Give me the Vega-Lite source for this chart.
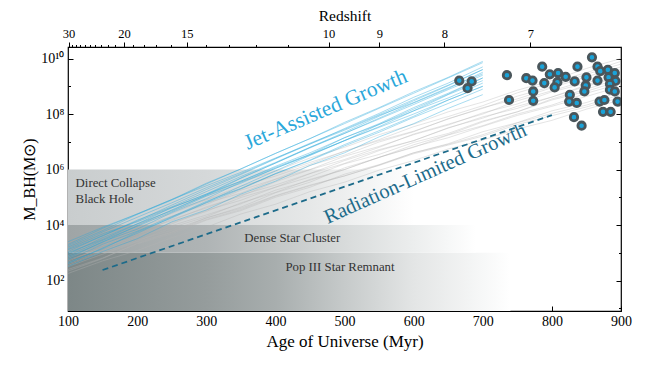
{
"$schema":"https://vega.github.io/schema/vega-lite/v6.json",
"width":553,"height":264,
"autosize":{"type":"none"},
"padding":{"left":68,"top":47,"right":29,"bottom":62},
"background":"white",
"config":{"view":{"stroke":"#000","strokeWidth":1.2},"font":"Liberation Serif",
"text":{"font":"Liberation Serif"},
"axis":{"grid":false,"domain":false,"zindex":1,"tickColor":"#000","tickWidth":1,"labelColor":"#000","titleColor":"#000","labelFont":"Liberation Serif","titleFont":"Liberation Serif","titleFontWeight":"normal","labelFlush":false,"labelOverlap":false}},
"datasets":{
"popiii":[{"x":100,"x2":740,"y":8,"y2":1000}],
"dense":[{"x":100,"x2":690,"y":1000,"y2":10000}],
"dcbh":[{"x":100,"x2":600,"y":10000,"y2":1000000}],
"blue":[
{"g":"b1","x":100,"y":3.2e2},{"g":"b1","x":150,"y":1.1e3},{"g":"b1","x":200,"y":3.2e3},{"g":"b1","x":250,"y":1.3e4},{"g":"b1","x":300,"y":3.5e4},{"g":"b1","x":350,"y":1.3e5},{"g":"b1","x":400,"y":3.8e5},{"g":"b1","x":450,"y":1.4e6},{"g":"b1","x":500,"y":4e6},{"g":"b1","x":550,"y":1.5e7},{"g":"b1","x":600,"y":4.5e7},{"g":"b1","x":650,"y":1.6e8},{"g":"b1","x":700,"y":5e8},
{"g":"b2","x":100,"y":4.5e2},{"g":"b2","x":150,"y":1.4e3},{"g":"b2","x":200,"y":5.6e3},{"g":"b2","x":250,"y":1.8e4},{"g":"b2","x":300,"y":6.3e4},{"g":"b2","x":350,"y":2e5},{"g":"b2","x":400,"y":7.1e5},{"g":"b2","x":450,"y":2.2e6},{"g":"b2","x":500,"y":7.9e6},{"g":"b2","x":550,"y":2.5e7},{"g":"b2","x":600,"y":8.3e7},{"g":"b2","x":650,"y":3.2e8},{"g":"b2","x":700,"y":1e9},
{"g":"b3","x":100,"y":5.6e2},{"g":"b3","x":150,"y":2e3},{"g":"b3","x":200,"y":6e3},{"g":"b3","x":250,"y":2e4},{"g":"b3","x":300,"y":7.1e4},{"g":"b3","x":350,"y":2.1e5},{"g":"b3","x":400,"y":7.1e5},{"g":"b3","x":450,"y":2.1e6},{"g":"b3","x":500,"y":7.1e6},{"g":"b3","x":550,"y":2.2e7},{"g":"b3","x":600,"y":7.6e7},{"g":"b3","x":650,"y":2.4e8},{"g":"b3","x":700,"y":7.9e8},
{"g":"b4","x":100,"y":6.3e2},{"g":"b4","x":150,"y":2.5e3},{"g":"b4","x":200,"y":7.1e3},{"g":"b4","x":250,"y":2.8e4},{"g":"b4","x":300,"y":8.9e4},{"g":"b4","x":350,"y":3.5e5},{"g":"b4","x":400,"y":1.1e6},{"g":"b4","x":450,"y":3.5e6},{"g":"b4","x":500,"y":1.4e7},{"g":"b4","x":550,"y":4.5e7},{"g":"b4","x":600,"y":1.7e8},{"g":"b4","x":650,"y":5.6e8},{"g":"b4","x":700,"y":2e9},
{"g":"b5","x":100,"y":7.9e2},{"g":"b5","x":150,"y":2.8e3},{"g":"b5","x":200,"y":8.9e3},{"g":"b5","x":250,"y":3e4},{"g":"b5","x":300,"y":1.1e5},{"g":"b5","x":350,"y":3.2e5},{"g":"b5","x":400,"y":1.1e6},{"g":"b5","x":450,"y":3.3e6},{"g":"b5","x":500,"y":1.1e7},{"g":"b5","x":550,"y":3.5e7},{"g":"b5","x":600,"y":1.3e8},{"g":"b5","x":650,"y":3.8e8},{"g":"b5","x":700,"y":1.3e9},
{"g":"b6","x":100,"y":8.9e2},{"g":"b6","x":150,"y":3.5e3},{"g":"b6","x":200,"y":1.1e4},{"g":"b6","x":250,"y":4.2e4},{"g":"b6","x":300,"y":1.3e5},{"g":"b6","x":350,"y":5e5},{"g":"b6","x":400,"y":1.7e6},{"g":"b6","x":450,"y":6e6},{"g":"b6","x":500,"y":2e7},{"g":"b6","x":550,"y":7.1e7},{"g":"b6","x":600,"y":2.5e8},{"g":"b6","x":650,"y":8.3e8},{"g":"b6","x":700,"y":3.2e9},
{"g":"b7","x":100,"y":1e3},{"g":"b7","x":150,"y":3e3},{"g":"b7","x":200,"y":1.1e4},{"g":"b7","x":250,"y":3.3e4},{"g":"b7","x":300,"y":1.2e5},{"g":"b7","x":350,"y":3.8e5},{"g":"b7","x":400,"y":1.3e6},{"g":"b7","x":450,"y":4e6},{"g":"b7","x":500,"y":1.4e7},{"g":"b7","x":550,"y":4.2e7},{"g":"b7","x":600,"y":1.3e8},{"g":"b7","x":650,"y":5e8},{"g":"b7","x":700,"y":1.6e9},
{"g":"b8","x":100,"y":1.1e3},{"g":"b8","x":150,"y":4.2e3},{"g":"b8","x":200,"y":1.4e4},{"g":"b8","x":250,"y":5.2e4},{"g":"b8","x":300,"y":1.9e5},{"g":"b8","x":350,"y":6.6e5},{"g":"b8","x":400,"y":2.4e6},{"g":"b8","x":450,"y":8.3e6},{"g":"b8","x":500,"y":3e7},{"g":"b8","x":550,"y":1.05e8},{"g":"b8","x":600,"y":4e8},{"g":"b8","x":650,"y":1.3e9},{"g":"b8","x":700,"y":5e9},
{"g":"b9","x":100,"y":1.3e3},{"g":"b9","x":150,"y":4e3},{"g":"b9","x":200,"y":1.5e4},{"g":"b9","x":250,"y":4.5e4},{"g":"b9","x":300,"y":1.6e5},{"g":"b9","x":350,"y":5.6e5},{"g":"b9","x":400,"y":1.8e6},{"g":"b9","x":450,"y":6.3e6},{"g":"b9","x":500,"y":2e7},{"g":"b9","x":550,"y":6.6e7},{"g":"b9","x":600,"y":2.2e8},{"g":"b9","x":650,"y":7.6e8},{"g":"b9","x":700,"y":2.5e9},
{"g":"b10","x":100,"y":1.4e3},{"g":"b10","x":150,"y":4.8e3},{"g":"b10","x":200,"y":1.3e4},{"g":"b10","x":250,"y":4.2e4},{"g":"b10","x":300,"y":1.3e5},{"g":"b10","x":350,"y":3.8e5},{"g":"b10","x":400,"y":1.2e6},{"g":"b10","x":450,"y":3.5e6},{"g":"b10","x":500,"y":1.1e7},{"g":"b10","x":550,"y":3.3e7},{"g":"b10","x":600,"y":1e8},{"g":"b10","x":650,"y":3.2e8},{"g":"b10","x":700,"y":1e9},
{"g":"b11","x":100,"y":1.6e3},{"g":"b11","x":150,"y":5.6e3},{"g":"b11","x":200,"y":1.9e4},{"g":"b11","x":250,"y":6.3e4},{"g":"b11","x":300,"y":2.2e5},{"g":"b11","x":350,"y":7.1e5},{"g":"b11","x":400,"y":2.5e6},{"g":"b11","x":450,"y":8.9e6},{"g":"b11","x":500,"y":2.8e7},{"g":"b11","x":550,"y":9.5e7},{"g":"b11","x":600,"y":3.3e8},{"g":"b11","x":650,"y":1.1e9},{"g":"b11","x":700,"y":4e9},
{"g":"b12","x":100,"y":2e3},{"g":"b12","x":150,"y":7.6e3},{"g":"b12","x":200,"y":2.5e4},{"g":"b12","x":250,"y":8.3e4},{"g":"b12","x":300,"y":3.2e5},{"g":"b12","x":350,"y":1.05e6},{"g":"b12","x":400,"y":3.8e6},{"g":"b12","x":450,"y":1.3e7},{"g":"b12","x":500,"y":4.5e7},{"g":"b12","x":550,"y":1.6e8},{"g":"b12","x":600,"y":5.6e8},{"g":"b12","x":650,"y":2e9},{"g":"b12","x":700,"y":7.1e9},
{"g":"b13","x":100,"y":7.1e2},{"g":"b13","x":150,"y":2.4e3},{"g":"b13","x":200,"y":9.5e3},{"g":"b13","x":250,"y":3.5e4},{"g":"b13","x":300,"y":1.2e5},{"g":"b13","x":350,"y":4.8e5},{"g":"b13","x":400,"y":1.7e6},{"g":"b13","x":450,"y":6.3e6},{"g":"b13","x":500,"y":2.2e7},{"g":"b13","x":550,"y":8.3e7},{"g":"b13","x":600,"y":3e8},{"g":"b13","x":650,"y":1.05e9},{"g":"b13","x":700,"y":4e9},
{"g":"b14","x":100,"y":2.5e3},{"g":"b14","x":150,"y":8.3e3},{"g":"b14","x":200,"y":2.5e4},{"g":"b14","x":250,"y":8.3e4},{"g":"b14","x":300,"y":2.6e5},{"g":"b14","x":350,"y":7.9e5},{"g":"b14","x":400,"y":2.6e6},{"g":"b14","x":450,"y":8.3e6},{"g":"b14","x":500,"y":2.6e7},{"g":"b14","x":550,"y":8.9e7},{"g":"b14","x":600,"y":2.6e8},{"g":"b14","x":650,"y":8.9e8},{"g":"b14","x":700,"y":2.8e9},
{"g":"b15","x":100,"y":4e2},{"g":"b15","x":150,"y":1.5e3},{"g":"b15","x":200,"y":5e3},{"g":"b15","x":250,"y":1.9e4},{"g":"b15","x":300,"y":6.6e4},{"g":"b15","x":350,"y":2.5e5},{"g":"b15","x":400,"y":8.9e5},{"g":"b15","x":450,"y":3.2e6},{"g":"b15","x":500,"y":1.1e7},{"g":"b15","x":550,"y":4.2e7},{"g":"b15","x":600,"y":1.5e8},{"g":"b15","x":650,"y":5.2e8},{"g":"b15","x":700,"y":2e9},
{"g":"b16","x":100,"y":1.8e3},{"g":"b16","x":150,"y":6.3e3},{"g":"b16","x":200,"y":2.4e4},{"g":"b16","x":250,"y":7.9e4},{"g":"b16","x":300,"y":3e5},{"g":"b16","x":350,"y":1.05e6},{"g":"b16","x":400,"y":3.8e6},{"g":"b16","x":450,"y":1.3e7},{"g":"b16","x":500,"y":5e7},{"g":"b16","x":550,"y":1.7e8},{"g":"b16","x":600,"y":6.3e8},{"g":"b16","x":650,"y":2.1e9},{"g":"b16","x":700,"y":7.9e9}
],
"gray":[
{"g":"g1","x":100,"y":1.8e2},{"g":"g1","x":150,"y":5.1e2},{"g":"g1","x":200,"y":1.2e3},{"g":"g1","x":250,"y":3.5e3},{"g":"g1","x":300,"y":8.3e3},{"g":"g1","x":350,"y":2.5e4},{"g":"g1","x":400,"y":5.6e4},{"g":"g1","x":450,"y":1.6e5},{"g":"g1","x":500,"y":3.5e5},{"g":"g1","x":550,"y":9.5e5},{"g":"g1","x":600,"y":2.1e6},{"g":"g1","x":650,"y":5.5e6},{"g":"g1","x":700,"y":1.15e7},{"g":"g1","x":750,"y":2.9e7},{"g":"g1","x":800,"y":5.9e7},{"g":"g1","x":850,"y":1.5e8},{"g":"g1","x":900,"y":3.2e8},
{"g":"g2","x":100,"y":2.5e2},{"g":"g2","x":150,"y":6.5e2},{"g":"g2","x":200,"y":2.1e3},{"g":"g2","x":250,"y":4.9e3},{"g":"g2","x":300,"y":1.5e4},{"g":"g2","x":350,"y":3.3e4},{"g":"g2","x":400,"y":1e5},{"g":"g2","x":450,"y":2.3e5},{"g":"g2","x":500,"y":6.8e5},{"g":"g2","x":550,"y":1.5e6},{"g":"g2","x":600,"y":4e6},{"g":"g2","x":650,"y":8.5e6},{"g":"g2","x":700,"y":2.3e7},{"g":"g2","x":750,"y":4.9e7},{"g":"g2","x":800,"y":1.3e8},{"g":"g2","x":850,"y":2.6e8},{"g":"g2","x":900,"y":6.3e8},
{"g":"g3","x":100,"y":3.2e2},{"g":"g3","x":150,"y":8.9e2},{"g":"g3","x":200,"y":2.5e3},{"g":"g3","x":250,"y":5.5e3},{"g":"g3","x":300,"y":1.6e4},{"g":"g3","x":350,"y":3.6e4},{"g":"g3","x":400,"y":1.1e5},{"g":"g3","x":450,"y":2.6e5},{"g":"g3","x":500,"y":5.9e5},{"g":"g3","x":550,"y":1.45e6},{"g":"g3","x":600,"y":4e6},{"g":"g3","x":650,"y":8.1e6},{"g":"g3","x":700,"y":1.8e7},{"g":"g3","x":750,"y":4.8e7},{"g":"g3","x":800,"y":1.05e8},{"g":"g3","x":850,"y":2.1e8},{"g":"g3","x":900,"y":5e8},
{"g":"g4","x":100,"y":3.5e2},{"g":"g4","x":150,"y":1.07e3},{"g":"g4","x":200,"y":2.6e3},{"g":"g4","x":250,"y":8.1e3},{"g":"g4","x":300,"y":2e4},{"g":"g4","x":350,"y":6.3e4},{"g":"g4","x":400,"y":1.5e5},{"g":"g4","x":450,"y":4.4e5},{"g":"g4","x":500,"y":1e6},{"g":"g4","x":550,"y":2.75e6},{"g":"g4","x":600,"y":6.3e6},{"g":"g4","x":650,"y":1.75e7},{"g":"g4","x":700,"y":3.8e7},{"g":"g4","x":750,"y":1e8},{"g":"g4","x":800,"y":2.1e8},{"g":"g4","x":850,"y":5.6e8},{"g":"g4","x":900,"y":1.26e9},
{"g":"g5","x":100,"y":4.5e2},{"g":"g5","x":150,"y":1.2e3},{"g":"g5","x":200,"y":3.5e3},{"g":"g5","x":250,"y":9.5e3},{"g":"g5","x":300,"y":2.3e4},{"g":"g5","x":350,"y":5.8e4},{"g":"g5","x":400,"y":1.8e5},{"g":"g5","x":450,"y":4.1e5},{"g":"g5","x":500,"y":1e6},{"g":"g5","x":550,"y":2.75e6},{"g":"g5","x":600,"y":6.6e6},{"g":"g5","x":650,"y":1.4e7},{"g":"g5","x":700,"y":3.6e7},{"g":"g5","x":750,"y":8.9e7},{"g":"g5","x":800,"y":1.9e8},{"g":"g5","x":850,"y":4.3e8},{"g":"g5","x":900,"y":1e9},
{"g":"g6","x":100,"y":5e2},{"g":"g6","x":150,"y":1.55e3},{"g":"g6","x":200,"y":3.8e3},{"g":"g6","x":250,"y":1.23e4},{"g":"g6","x":300,"y":3.1e4},{"g":"g6","x":350,"y":9.8e4},{"g":"g6","x":400,"y":2.3e5},{"g":"g6","x":450,"y":7.1e5},{"g":"g6","x":500,"y":1.66e6},{"g":"g6","x":550,"y":4.8e6},{"g":"g6","x":600,"y":1.1e7},{"g":"g6","x":650,"y":3.2e7},{"g":"g6","x":700,"y":7.1e7},{"g":"g6","x":750,"y":1.9e8},{"g":"g6","x":800,"y":4.1e8},{"g":"g6","x":850,"y":1.1e9},{"g":"g6","x":900,"y":2.5e9},
{"g":"g7","x":100,"y":5.6e2},{"g":"g7","x":150,"y":1.45e3},{"g":"g7","x":200,"y":4.8e3},{"g":"g7","x":250,"y":1.1e4},{"g":"g7","x":300,"y":3.4e4},{"g":"g7","x":350,"y":7.8e4},{"g":"g7","x":400,"y":2.3e5},{"g":"g7","x":450,"y":5.4e5},{"g":"g7","x":500,"y":1.6e6},{"g":"g7","x":550,"y":3.5e6},{"g":"g7","x":600,"y":9.5e6},{"g":"g7","x":650,"y":2e7},{"g":"g7","x":700,"y":5.6e7},{"g":"g7","x":750,"y":1.2e8},{"g":"g7","x":800,"y":3.2e8},{"g":"g7","x":850,"y":6.6e8},{"g":"g7","x":900,"y":1.6e9},
{"g":"g8","x":100,"y":6.3e2},{"g":"g8","x":150,"y":1.95e3},{"g":"g8","x":200,"y":5.8e3},{"g":"g8","x":250,"y":1.45e4},{"g":"g8","x":300,"y":4.5e4},{"g":"g8","x":350,"y":1.1e5},{"g":"g8","x":400,"y":3.6e5},{"g":"g8","x":450,"y":9.8e5},{"g":"g8","x":500,"y":2.3e6},{"g":"g8","x":550,"y":6.3e6},{"g":"g8","x":600,"y":1.9e7},{"g":"g8","x":650,"y":4.3e7},{"g":"g8","x":700,"y":1e8},{"g":"g8","x":750,"y":3e8},{"g":"g8","x":800,"y":6.9e8},{"g":"g8","x":850,"y":1.6e9},{"g":"g8","x":900,"y":4e9},
{"g":"g9","x":100,"y":7.1e2},{"g":"g9","x":150,"y":1.9e3},{"g":"g9","x":200,"y":5.1e3},{"g":"g9","x":250,"y":1.6e4},{"g":"g9","x":300,"y":4.1e4},{"g":"g9","x":350,"y":1.2e5},{"g":"g9","x":400,"y":2.75e5},{"g":"g9","x":450,"y":7.2e5},{"g":"g9","x":500,"y":2.1e6},{"g":"g9","x":550,"y":5.2e6},{"g":"g9","x":600,"y":1.1e7},{"g":"g9","x":650,"y":3.1e7},{"g":"g9","x":700,"y":7.9e7},{"g":"g9","x":750,"y":1.6e8},{"g":"g9","x":800,"y":4.1e8},{"g":"g9","x":850,"y":1e9},{"g":"g9","x":900,"y":2.2e9},
{"g":"g10","x":100,"y":7.9e2},{"g":"g10","x":150,"y":2.5e3},{"g":"g10","x":200,"y":6.3e3},{"g":"g10","x":250,"y":2.1e4},{"g":"g10","x":300,"y":5.5e4},{"g":"g10","x":350,"y":1.8e5},{"g":"g10","x":400,"y":4.5e5},{"g":"g10","x":450,"y":1.4e6},{"g":"g10","x":500,"y":3.3e6},{"g":"g10","x":550,"y":9.8e6},{"g":"g10","x":600,"y":2.3e7},{"g":"g10","x":650,"y":6.8e7},{"g":"g10","x":700,"y":1.6e8},{"g":"g10","x":750,"y":4.4e8},{"g":"g10","x":800,"y":9.8e8},{"g":"g10","x":850,"y":2.7e9},{"g":"g10","x":900,"y":6.3e9},
{"g":"g11","x":100,"y":1e3},{"g":"g11","x":150,"y":2.6e3},{"g":"g11","x":200,"y":8.5e3},{"g":"g11","x":250,"y":2e4},{"g":"g11","x":300,"y":6.3e4},{"g":"g11","x":350,"y":1.4e5},{"g":"g11","x":400,"y":4.4e5},{"g":"g11","x":450,"y":1e6},{"g":"g11","x":500,"y":3e6},{"g":"g11","x":550,"y":6.8e6},{"g":"g11","x":600,"y":1.8e7},{"g":"g11","x":650,"y":4e7},{"g":"g11","x":700,"y":1.1e8},{"g":"g11","x":750,"y":2.3e8},{"g":"g11","x":800,"y":6.3e8},{"g":"g11","x":850,"y":1.3e9},{"g":"g11","x":900,"y":3.2e9},
{"g":"g12","x":100,"y":1.1e3},{"g":"g12","x":150,"y":3.5e3},{"g":"g12","x":200,"y":1.05e4},{"g":"g12","x":250,"y":2.6e4},{"g":"g12","x":300,"y":8.1e4},{"g":"g12","x":350,"y":2e5},{"g":"g12","x":400,"y":6.8e5},{"g":"g12","x":450,"y":1.8e6},{"g":"g12","x":500,"y":4.5e6},{"g":"g12","x":550,"y":1.2e7},{"g":"g12","x":600,"y":3.5e7},{"g":"g12","x":650,"y":8.1e7},{"g":"g12","x":700,"y":2e8},{"g":"g12","x":750,"y":5.8e8},{"g":"g12","x":800,"y":1.35e9},{"g":"g12","x":850,"y":3.1e9},{"g":"g12","x":900,"y":7.9e9},
{"g":"g13","x":100,"y":1.4e3},{"g":"g13","x":150,"y":3.8e3},{"g":"g13","x":200,"y":1.05e4},{"g":"g13","x":250,"y":3.3e4},{"g":"g13","x":300,"y":8.3e4},{"g":"g13","x":350,"y":2.5e5},{"g":"g13","x":400,"y":5.8e5},{"g":"g13","x":450,"y":1.55e6},{"g":"g13","x":500,"y":4.6e6},{"g":"g13","x":550,"y":1.1e7},{"g":"g13","x":600,"y":2.4e7},{"g":"g13","x":650,"y":6.6e7},{"g":"g13","x":700,"y":1.7e8},{"g":"g13","x":750,"y":3.5e8},{"g":"g13","x":800,"y":8.9e8},{"g":"g13","x":850,"y":2.2e9},{"g":"g13","x":900,"y":5e9},
{"g":"g14","x":100,"y":1.8e3},{"g":"g14","x":150,"y":5.5e3},{"g":"g14","x":200,"y":1.35e4},{"g":"g14","x":250,"y":4.5e4},{"g":"g14","x":300,"y":1.1e5},{"g":"g14","x":350,"y":3.6e5},{"g":"g14","x":400,"y":8.7e5},{"g":"g14","x":450,"y":2.6e6},{"g":"g14","x":500,"y":6.3e6},{"g":"g14","x":550,"y":1.8e7},{"g":"g14","x":600,"y":4.3e7},{"g":"g14","x":650,"y":1.2e8},{"g":"g14","x":700,"y":2.7e8},{"g":"g14","x":750,"y":7.2e8},{"g":"g14","x":800,"y":1.6e9},{"g":"g14","x":850,"y":4.4e9},{"g":"g14","x":900,"y":1e10},
{"g":"g15","x":100,"y":2.2e2},{"g":"g15","x":150,"y":6.2e2},{"g":"g15","x":200,"y":2.2e3},{"g":"g15","x":250,"y":5.5e3},{"g":"g15","x":300,"y":1.8e4},{"g":"g15","x":350,"y":4.4e4},{"g":"g15","x":400,"y":1.45e5},{"g":"g15","x":450,"y":3.5e5},{"g":"g15","x":500,"y":1.15e6},{"g":"g15","x":550,"y":2.7e6},{"g":"g15","x":600,"y":7.8e6},{"g":"g15","x":650,"y":1.8e7},{"g":"g15","x":700,"y":5.2e7},{"g":"g15","x":750,"y":1.2e8},{"g":"g15","x":800,"y":3.5e8},{"g":"g15","x":850,"y":7.8e8},{"g":"g15","x":900,"y":2e9},
{"g":"g16","x":100,"y":4e2},{"g":"g16","x":150,"y":1.1e3},{"g":"g16","x":200,"y":2.9e3},{"g":"g16","x":250,"y":6.5e3},{"g":"g16","x":300,"y":1.8e4},{"g":"g16","x":350,"y":4e4},{"g":"g16","x":400,"y":1.15e5},{"g":"g16","x":450,"y":2.75e5},{"g":"g16","x":500,"y":5.9e5},{"g":"g16","x":550,"y":1.4e6},{"g":"g16","x":600,"y":3.7e6},{"g":"g16","x":650,"y":7.6e6},{"g":"g16","x":700,"y":1.6e7},{"g":"g16","x":750,"y":4.2e7},{"g":"g16","x":800,"y":8.7e7},{"g":"g16","x":850,"y":1.8e8},{"g":"g16","x":900,"y":4e8}
],
"bandleft":[{"x":111,"y":3.4e5,"t":"Direct Collapse"},{"x":111,"y":8.5e4,"t":"Black Hole"}],
"bandcenter":[{"x":424.5,"y":3.35e3,"t":"Dense Star Cluster"},{"x":493.5,"y":3.1e2,"t":"Pop III Star Remnant"}],
"radlimit":[{"x":150,"y":2.4e2},{"x":800,"y":9.1e7}],
"jet":[{"x":473,"y":1.4e8,"t":"Jet-Assisted Growth"}],
"rad":[{"x":617,"y":7e5,"t":"Radiation-Limited Growth"}],
"quasars":[
{"x":666,"y":1.6e9},{"x":684,"y":1.5e9},{"x":678,"y":8.5e8},{"x":735,"y":2.5e9},{"x":738,"y":3.2e8},{"x":763,"y":1.95e9},{"x":772,"y":1.6e9},{"x":773,"y":6.5e8},{"x":773,"y":3e8},{"x":786,"y":5.1e9},{"x":789,"y":1.3e9},{"x":797,"y":2.7e9},{"x":809,"y":3e9},{"x":820,"y":2.2e9},{"x":808,"y":1.4e9},{"x":804,"y":9.1e8},{"x":837,"y":5.1e9},{"x":833,"y":1.5e9},{"x":850,"y":2.1e9},{"x":849,"y":1.07e9},{"x":847,"y":6.5e8},{"x":826,"y":4.9e8},{"x":825,"y":2.8e8},{"x":836,"y":2.5e8},{"x":832,"y":7.7e7},{"x":843,"y":3.8e7},{"x":858,"y":1.1e10},{"x":866,"y":5.1e9},{"x":870,"y":3.5e9},{"x":866,"y":1.6e9},{"x":881,"y":3.9e9},{"x":891,"y":3e9},{"x":882,"y":2.1e9},{"x":892,"y":1.55e9},{"x":884,"y":1.2e9},{"x":884,"y":7.5e8},{"x":891,"y":6.5e8},{"x":895,"y":2.8e8},{"x":869,"y":2.8e8},{"x":876,"y":3.2e8},{"x":874,"y":1.2e8},{"x":885,"y":1.2e8}
]
},
"layer":[
{"data":{"name":"popiii"},
 "mark":{"type":"rect","fill":{"gradient":"linear","x1":0,"y1":0,"x2":1,"y2":0,"stops":[{"offset":0,"color":"#7d8787"},{"offset":0.31,"color":"#959c9c"},{"offset":0.47,"color":"#a8aeae"},{"offset":0.625,"color":"#c6caca"},{"offset":0.78,"color":"#e3e5e5"},{"offset":0.94,"color":"#f7f8f8"},{"offset":1,"color":"#ffffff"}]},"clip":true},
 "encoding":{
  "x":{"field":"x","type":"quantitative","scale":{"domain":[100,900],"nice":false,"zero":false},
   "axis":{"orient":"bottom","values":[100,200,300,400,500,600,700,800,900],"tickSize":-5,"labelPadding":8,"labelFont":"Liberation Serif","titleFont":"Liberation Serif","labelFontSize":14,"title":"Age of Universe (Myr)","titleFontSize":17,"titlePadding":5}},
  "x2":{"field":"x2"},
  "y":{"field":"y","type":"quantitative","scale":{"type":"log","domain":[8,2.6e10],"nice":false},
   "axis":{"orient":"left","values":[10,100,1000,10000,100000,1000000,10000000,100000000,1000000000,10000000000],
    "labelExpr":"datum.value==100?'10²':datum.value==10000?'10⁴':datum.value==1000000?'10⁶':datum.value==100000000?'10⁸':datum.value==10000000000?'10¹⁰':''",
    "tickSize":{"condition":{"test":"indexof([100,10000,1000000,100000000,10000000000], datum.value) >= 0","value":-5},"value":-2.5},
    "labelPadding":9,"labelFont":"Liberation Serif","titleFont":"Liberation Serif","labelFontSize":14,"title":"M_BH(M⊙)","titleFontSize":16,"titlePadding":3}},
  "y2":{"field":"y2"}}},
{"data":{"name":"dense"},
 "mark":{"type":"rect","fill":{"gradient":"linear","x1":0,"y1":0,"x2":1,"y2":0,"stops":[{"offset":0,"color":"#9fa5a6"},{"offset":0.34,"color":"#afb4b5"},{"offset":0.5,"color":"#c2c6c6"},{"offset":0.68,"color":"#d8dbdb"},{"offset":0.85,"color":"#eceeee"},{"offset":1,"color":"#ffffff"}]},"clip":true},
 "encoding":{"x":{"field":"x","type":"quantitative","axis":null},"x2":{"field":"x2"},"y":{"field":"y","type":"quantitative","axis":null},"y2":{"field":"y2"}}},
{"data":{"name":"dcbh"},
 "mark":{"type":"rect","fill":{"gradient":"linear","x1":0,"y1":0,"x2":1,"y2":0,"stops":[{"offset":0,"color":"#c9cdce"},{"offset":0.4,"color":"#d5d8d9"},{"offset":0.7,"color":"#e6e8e8"},{"offset":0.88,"color":"#f4f5f5"},{"offset":1,"color":"#ffffff"}]},"clip":true},
 "encoding":{"x":{"field":"x","type":"quantitative","axis":null},"x2":{"field":"x2"},"y":{"field":"y","type":"quantitative","axis":null},"y2":{"field":"y2"}}},
{"data":{"name":"gray"},
 "mark":{"type":"line","color":"#b4b4b4","opacity":0.45,"strokeWidth":0.8,"clip":true},
 "encoding":{"x":{"field":"x","type":"quantitative","axis":null},"y":{"field":"y","type":"quantitative","axis":null},"detail":{"field":"g"}}},
{"data":{"name":"blue"},
 "mark":{"type":"line","color":"#29a8da","opacity":0.45,"strokeWidth":0.9,"clip":true},
 "encoding":{"x":{"field":"x","type":"quantitative","axis":null},"y":{"field":"y","type":"quantitative","axis":null},"detail":{"field":"g"}}},
{"data":{"name":"bandleft"},
 "mark":{"type":"text","align":"left","baseline":"middle","fontSize":12.8,"color":"#333333","font":"Liberation Serif"},
 "encoding":{"x":{"field":"x","type":"quantitative","axis":null},"y":{"field":"y","type":"quantitative","axis":null},"text":{"field":"t"}}},
{"data":{"name":"bandcenter"},
 "mark":{"type":"text","align":"center","baseline":"middle","fontSize":12.8,"color":"#333333","font":"Liberation Serif"},
 "encoding":{"x":{"field":"x","type":"quantitative","axis":null},"y":{"field":"y","type":"quantitative","axis":null},"text":{"field":"t"}}},
{"data":{"name":"radlimit"},
 "mark":{"type":"line","color":"#1d6b8a","strokeWidth":1.8,"strokeDash":[6,4]},
 "encoding":{"x":{"field":"x","type":"quantitative","axis":null},"y":{"field":"y","type":"quantitative","axis":null}}},
{"data":{"name":"jet"},
 "mark":{"type":"text","align":"center","baseline":"middle","fontSize":21.5,"angle":337,"color":"#2aa7da","font":"Liberation Serif"},
 "encoding":{"x":{"field":"x","type":"quantitative","axis":null},"y":{"field":"y","type":"quantitative","axis":null},"text":{"field":"t"}}},
{"data":{"name":"rad"},
 "mark":{"type":"text","align":"center","baseline":"middle","fontSize":20.5,"angle":336,"color":"#1d6b8a","font":"Liberation Serif"},
 "encoding":{"x":{"field":"x","type":"quantitative","axis":null},"y":{"field":"y","type":"quantitative","axis":null},"text":{"field":"t"}}},
{"data":{"name":"quasars"},
 "mark":{"type":"point","shape":"circle","filled":true,"size":55,"fill":"#1aa3d9","stroke":"#4a565b","strokeWidth":2.8,"opacity":1,"clip":true},
 "encoding":{
  "x":{"field":"x","type":"quantitative","scale":{"domain":[100,900],"nice":false,"zero":false},
   "axis":{"orient":"top","title":"Redshift","labelFont":"Liberation Serif","titleFont":"Liberation Serif","titleFontSize":15.5,"titlePadding":4,"labelFontSize":12.5,"labelPadding":2,
    "values":[100.8,105.9,111.4,117.5,124,131.3,139.2,148,157.8,168.6,180.9,194.6,210.1,227.9,248.3,271.9,299.5,332.2,371.3,418.6,477,550.3,644.5,769],
    "labelExpr":"datum.value==100.8?'30':datum.value==180.9?'20':datum.value==271.9?'15':datum.value==477?'10':datum.value==550.3?'9':datum.value==644.5?'8':datum.value==769?'7':''",
    "tickSize":{"condition":{"test":"indexof([100.8,180.9,271.9,477,550.3,644.5,769], datum.value) >= 0","value":5},"value":2.5}}},
  "y":{"field":"y","type":"quantitative","scale":{"type":"log","domain":[8,2.6e10],"nice":false},
   "axis":{"orient":"right","title":null,"labels":false,"values":[10,100,1000,10000,100000,1000000,10000000,100000000,1000000000,10000000000],
    "tickSize":{"condition":{"test":"indexof([100,10000,1000000,100000000,10000000000], datum.value) >= 0","value":-5},"value":-2.5}}}}}
],
"resolve":{"axis":{"x":"independent","y":"independent"}}
}
